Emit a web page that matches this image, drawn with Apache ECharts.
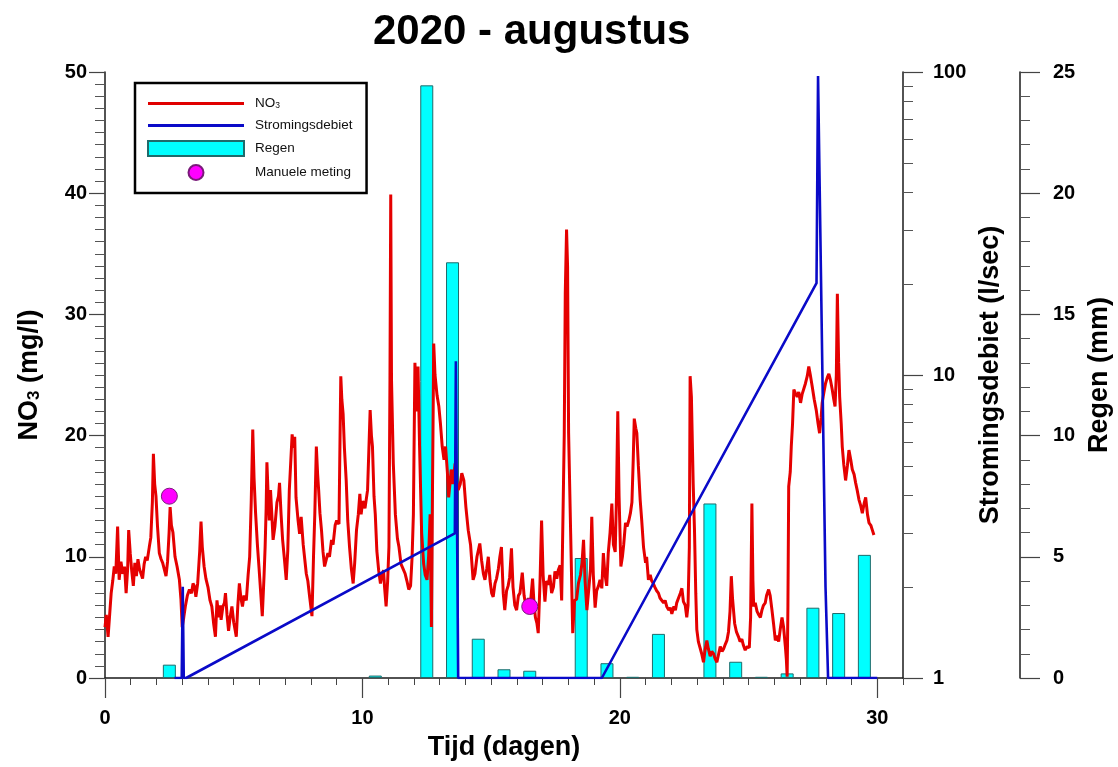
<!DOCTYPE html>
<html>
<head>
<meta charset="utf-8">
<title>2020 - augustus</title>
<script src="https://cdn.jsdelivr.net/npm/echarts@6/dist/echarts.min.js"></script>
<style>
  html, body { margin: 0; padding: 0; background: #ffffff; }
  #chart { width: 1118px; height: 767px; }
</style>
</head>
<body>
<div id="chart"></div>
<script>
// NO3 concentration (mg/l) over the month, time in days
const no3Days = [
  0.00,0.05,0.12,0.20,0.24,0.30,0.36,0.42,0.49,0.55,0.62,0.69,0.76,0.82,0.88,0.92,0.98,1.04,1.10,1.16,
  1.22,1.28,1.34,1.40,1.46,1.52,1.58,1.64,1.72,1.78,1.84,1.88,1.93,1.98,2.04,2.11,2.18,2.24,2.30,2.37,
  2.43,2.49,2.53,2.58,2.64,2.72,2.80,2.89,2.95,3.00,3.06,3.12,3.20,3.28,3.36,3.42,3.47,3.53,3.60,3.68,
  3.73,3.78,3.85,3.92,4.00,4.08,4.15,4.22,4.29,4.35,4.42,4.48,4.51,4.58,4.64,4.68,4.74,4.80,4.86,4.93,
  5.00,5.06,5.10,5.16,5.22,5.28,5.34,5.40,5.49,5.56,5.62,5.68,5.74,5.79,5.85,5.92,5.98,6.05,6.11,6.18,
  6.22,6.26,6.29,6.34,6.38,6.43,6.48,6.53,6.60,6.68,6.74,6.78,6.84,6.90,6.97,7.04,7.10,7.16,7.22,7.27,
  7.32,7.37,7.42,7.50,7.56,7.62,7.70,7.76,7.82,7.88,7.95,8.04,8.10,8.15,8.21,8.26,8.30,8.35,8.41,8.47,
  8.53,8.60,8.66,8.72,8.80,8.86,8.94,9.00,9.09,9.12,9.16,9.20,9.25,9.30,9.37,9.43,9.50,9.57,9.64,9.70,
  9.77,9.84,9.90,9.95,10.01,10.10,10.20,10.30,10.35,10.39,10.45,10.50,10.56,10.63,10.70,10.76,10.82,10.86,10.92,10.98,
  11.03,11.07,11.10,11.13,11.20,11.28,11.36,11.42,11.50,11.58,11.66,11.73,11.80,11.87,11.93,11.98,12.04,12.10,12.16,12.22,
  12.30,12.38,12.44,12.51,12.57,12.63,12.68,12.72,12.77,12.82,12.90,12.97,13.03,13.10,13.17,13.23,13.30,13.35,13.40,13.45,
  13.52,13.60,13.66,13.72,13.80,13.86,13.94,14.02,14.11,14.20,14.30,14.37,14.45,14.56,14.63,14.70,14.76,14.83,14.89,14.96,
  15.02,15.08,15.15,15.21,15.28,15.34,15.40,15.47,15.53,15.60,15.66,15.72,15.79,15.85,15.92,15.99,16.06,16.12,16.21,16.28,
  16.33,16.38,16.45,16.52,16.61,16.67,16.72,16.78,16.83,16.90,16.96,17.02,17.09,17.15,17.22,17.28,17.35,17.42,17.48,17.55,
  17.61,17.68,17.74,17.80,17.84,17.88,17.93,17.97,18.01,18.09,18.17,18.24,18.32,18.39,18.47,18.53,18.59,18.65,18.72,18.80,
  18.86,18.91,18.97,19.04,19.10,19.17,19.23,19.30,19.36,19.42,19.49,19.55,19.62,19.69,19.75,19.82,19.87,19.92,19.97,20.04,
  20.10,20.15,20.22,20.28,20.35,20.41,20.47,20.52,20.56,20.62,20.66,20.72,20.79,20.85,20.92,21.00,21.04,21.11,21.18,21.24,
  21.30,21.36,21.43,21.50,21.56,21.63,21.70,21.76,21.82,21.90,21.96,22.02,22.10,22.16,22.21,22.28,22.35,22.41,22.47,22.54,
  22.60,22.65,22.70,22.73,22.78,22.85,22.90,22.95,22.99,23.05,23.12,23.18,23.25,23.31,23.38,23.44,23.51,23.57,23.64,23.70,
  23.77,23.84,23.90,23.97,24.03,24.10,24.16,24.22,24.28,24.33,24.38,24.46,24.53,24.61,24.67,24.74,24.80,24.87,24.95,25.03,
  25.08,25.13,25.17,25.20,25.26,25.33,25.40,25.46,25.52,25.58,25.65,25.70,25.78,25.84,25.91,25.97,26.04,26.10,26.17,26.23,
  26.30,26.36,26.43,26.47,26.50,26.53,26.56,26.62,26.66,26.71,26.76,26.82,26.89,26.95,27.02,27.08,27.15,27.21,27.28,27.34,
  27.40,27.47,27.55,27.63,27.70,27.76,27.82,27.86,27.93,27.99,28.06,28.12,28.18,28.25,28.31,28.36,28.41,28.45,28.50,28.54,
  28.60,28.64,28.70,28.77,28.84,28.90,28.97,29.03,29.10,29.16,29.22,29.29,29.36,29.42,29.49,29.55,29.62,29.68,29.75,29.81,
  29.87
];
const no3Values = [
  4.2,5.2,3.4,5.8,7.0,8.0,9.2,8.6,12.5,8.1,9.6,8.6,9.2,7.0,9.0,12.2,10.3,8.8,7.6,9.5,
  8.4,9.8,9.0,8.6,8.2,9.4,10.0,9.7,10.8,11.6,14.5,18.5,16.0,15.0,12.5,10.3,9.8,9.5,9.0,8.4,
  9.6,12.0,14.1,12.6,12.0,10.0,9.2,8.1,6.5,4.2,5.0,5.9,6.8,7.3,7.0,7.8,7.6,6.7,7.8,10.5,
  12.9,10.8,9.2,8.2,7.5,6.4,5.9,4.5,3.4,6.4,5.0,6.0,4.8,5.9,6.2,7.0,5.2,3.9,5.0,5.9,
  4.6,3.9,3.4,6.0,7.8,6.6,5.9,6.8,6.4,8.5,10.0,14.5,20.5,16.5,13.6,11.0,9.2,7.0,5.1,8.5,
  10.8,14.0,17.8,15.0,13.0,15.5,13.5,11.4,12.5,14.5,15.0,16.1,13.5,11.4,9.8,8.1,10.5,15.5,18.0,20.1,
  19.0,19.9,14.9,13.0,11.9,13.3,11.0,9.8,8.6,8.0,6.7,5.1,10.0,13.5,19.1,16.8,15.5,13.6,12.2,10.4,
  9.2,9.8,10.3,10.0,11.4,11.0,12.6,13.0,12.7,18.0,24.9,23.0,21.8,19.0,16.3,13.0,10.8,9.0,7.8,9.5,
  12.2,13.5,15.2,13.5,14.6,14.0,15.5,22.1,20.0,19.1,15.0,13.5,10.5,8.9,7.8,8.5,8.9,7.5,5.9,8.0,
  10.8,24.6,39.9,24.6,17.7,13.5,11.5,10.8,9.4,9.0,8.6,8.0,7.3,7.6,10.0,13.5,26.0,22.0,25.7,19.1,
  12.0,9.4,8.5,8.1,10.0,13.5,4.2,15.0,27.6,25.0,23.3,22.4,21.0,19.1,18.0,19.1,17.0,14.9,16.0,17.2,
  16.0,17.7,16.2,15.5,16.0,16.9,16.3,14.1,12.2,11.0,8.1,8.6,10.0,11.1,9.7,8.6,8.1,9.0,10.0,8.0,
  7.0,6.7,7.8,8.2,9.0,10.0,10.8,7.0,5.6,7.2,7.6,8.3,10.7,7.5,6.0,5.6,6.8,7.0,8.7,6.8,
  6.2,5.6,6.6,6.0,8.2,6.0,5.0,4.5,3.7,8.0,13.0,8.5,6.3,8.0,7.7,8.5,7.0,7.5,8.8,8.2,
  8.9,9.3,6.4,6.4,20.0,31.7,37.0,33.9,20.2,11.9,3.7,6.4,6.5,7.8,8.5,9.5,11.4,8.0,5.6,7.5,
  9.0,13.3,8.5,5.8,7.2,7.6,8.1,7.4,10.3,8.6,7.6,10.3,12.0,14.4,11.0,10.4,15.0,22.0,15.0,9.2,
  10.0,11.0,12.8,12.5,13.0,13.6,14.5,18.0,21.4,20.6,20.2,17.5,14.7,13.0,10.8,9.5,10.0,8.1,8.5,8.0,
  7.8,7.5,7.2,7.0,6.6,6.7,6.2,6.4,5.9,5.6,5.8,5.3,5.9,5.6,6.2,6.6,7.0,7.4,6.3,6.0,
  5.0,6.0,10.8,24.9,23.2,16.0,12.2,7.0,4.0,3.0,3.1,2.0,1.3,2.3,3.1,2.4,1.8,2.2,2.0,1.6,
  1.3,2.0,2.6,2.2,2.4,2.8,3.1,3.8,5.5,8.4,6.5,4.5,3.8,3.4,3.0,3.2,2.7,2.3,2.6,2.5,
  5.0,14.4,8.0,5.9,6.2,5.5,5.2,5.0,5.6,6.0,6.2,6.8,7.3,6.8,5.6,4.5,3.1,3.5,3.0,4.0,
  5.0,4.2,2.6,1.5,0.1,6.0,15.8,17.0,19.1,21.0,23.8,23.5,23.2,23.6,22.7,23.4,23.5,24.3,24.9,25.7,
  25.0,24.1,23.0,22.1,21.0,20.2,21.5,22.7,23.6,24.3,24.8,25.1,24.6,23.8,23.0,22.4,25.0,31.7,26.0,23.2,
  21.0,19.1,17.6,16.3,17.5,18.8,18.0,17.2,16.8,16.1,15.5,14.7,14.2,13.6,14.4,14.9,13.5,12.8,12.6,12.2,
  11.8
];

// Flow rate (l/sec), logarithmic axis
const flowDays   = [2.70, 2.98, 3.02, 3.06, 3.15, 13.59, 13.63, 13.72, 19.30, 27.64, 27.70, 27.99, 28.09, 30.00];
const flowValues = [1.0,  1.0,  2.0,  1.0,  1.0,  3.0,   11.1,  1.0,   1.0,   20.1,  97.0,  2.0,   1.0,   1.0];

// Daily rainfall (mm), bars centred on the middle of each day
const rainDays   = [2.5, 10.5, 12.5, 13.5, 14.5, 15.5, 16.5, 18.5, 19.5, 20.5, 21.5, 23.5, 24.5, 25.5, 26.5, 27.5, 28.5, 29.5];
const rainValues = [0.55, 0.1, 24.45, 17.15, 1.62, 0.36, 0.3, 4.95, 0.61, 0.05, 1.82, 7.2, 0.67, 0.05, 0.19, 2.9, 2.68, 5.08];

// Manual NO3 measurements (mg/l)
const manualDays   = [2.5, 16.5];
const manualValues = [15.0, 5.9];

// Axis ticks
const dayTicks   = [0, 10, 20, 30];
const flowMajor  = [1, 10, 100];
const flowMinor  = [2, 3, 4, 5, 6, 7, 8, 9, 20, 30, 40, 50, 60, 70, 80, 90];

const FONT = '"Liberation Sans", Arial, Helvetica, sans-serif';
const AXIS_COLOR = '#1a1a1a';
// thin horizontal bar used as the legend symbol of the two line series
const LINE_ICON = 'path://M0,0 M0,6 L96,6 L96,9 L0,9 Z M96,15';

const pairs = (xs, ys) => xs.map((x, i) => [x, ys[i]]);

const chart = echarts.init(document.getElementById('chart'), null, { renderer: 'canvas' });

const tickLabel = { fontFamily: FONT, fontSize: 20, fontWeight: 'bold', color: '#000' };
const axisName = { fontFamily: FONT, fontSize: 27, fontWeight: 'bold', color: '#000' };
const noZeroLine = { show: true, onZero: false, lineStyle: { color: AXIS_COLOR, width: 1.5 } };

chart.setOption({
  animation: false,
  backgroundColor: '#ffffff',
  textStyle: { fontFamily: FONT },
  graphic: [{
    type: 'text',
    left: 373,
    top: 11,
    style: { text: '2020 - augustus', font: 'bold 42px ' + FONT, fill: '#000' }
  }],
  grid: { left: 105, right: 215, top: 72, bottom: 89, containLabel: false, outerBoundsMode: 'none' },
  legend: {
    orient: 'vertical',
    left: 135,
    top: 83,
    padding: [13, 14, 12, 12],
    backgroundColor: '#ffffff',
    borderColor: '#000',
    borderWidth: 2.5,
    itemWidth: 96,
    itemHeight: 15,
    itemGap: 7,
    selectedMode: false,
    data: [
      { name: 'NO3', icon: LINE_ICON, itemStyle: { color: '#e00000', borderWidth: 0 } },
      { name: 'Stromingsdebiet', icon: LINE_ICON, itemStyle: { color: '#0a0ac8', borderWidth: 0 } },
      { name: 'Regen', icon: 'rect' },
      { name: 'Manuele meting', icon: 'circle' }
    ],
    formatter: name => name === 'NO3' ? '{n|NO}{s|3}' : name,
    textStyle: {
      fontFamily: FONT, fontSize: 13.5, color: '#111', padding: [0, 0, 0, 6],
      rich: {
        n: { fontFamily: FONT, fontSize: 13.5, color: '#111' },
        s: { fontFamily: FONT, fontSize: 8.5, color: '#111', verticalAlign: 'bottom' }
      }
    }
  },
  xAxis: [
    {
      type: 'value', min: 0, max: 31, interval: 1, position: 'bottom',
      name: 'Tijd (dagen)', nameLocation: 'middle', nameGap: 56, nameTextStyle: axisName,
      axisLine: noZeroLine,
      axisTick: { show: true, length: 7, lineStyle: { color: '#444', width: 1 } },
      axisLabel: { customValues: dayTicks, margin: 30, ...tickLabel },
      splitLine: { show: false }
    },
    {
      type: 'value', min: 0, max: 31, position: 'bottom',
      axisLine: { show: false, onZero: false },
      axisTick: { show: true, customValues: dayTicks, length: 20, lineStyle: { color: '#444', width: 1.2 } },
      axisLabel: { show: false },
      splitLine: { show: false }
    }
  ],
  yAxis: [
    {
      type: 'value', min: 0, max: 50, interval: 10, position: 'left',
      name: '{b|NO}{s|3}{b| (mg/l)}', nameLocation: 'middle', nameGap: 62, nameRotate: 90,
      nameTextStyle: {
        ...axisName,
        rich: {
          b: { fontFamily: FONT, fontSize: 27, fontWeight: 'bold', color: '#000' },
          s: { fontFamily: FONT, fontSize: 17, fontWeight: 'bold', color: '#000', verticalAlign: 'bottom' }
        }
      },
      axisLine: noZeroLine,
      axisTick: { show: true, length: 16, lineStyle: { color: '#444', width: 1.2 } },
      minorTick: { show: true, splitNumber: 10, length: 10, lineStyle: { color: '#555', width: 1 } },
      axisLabel: { margin: 18, ...tickLabel },
      splitLine: { show: false }
    },
    {
      type: 'log', logBase: 10, min: 1, max: 100, position: 'right', offset: 0,
      name: 'Stromingsdebiet (l/sec)', nameLocation: 'middle', nameGap: 74, nameRotate: 90,
      nameTextStyle: axisName,
      axisLine: noZeroLine,
      axisTick: { show: true, customValues: flowMajor, length: 20, lineStyle: { color: '#444', width: 1.2 } },
      axisLabel: { margin: 30, ...tickLabel },
      splitLine: { show: false }
    },
    {
      type: 'value', min: 0, max: 25, interval: 5, position: 'right', offset: 117,
      name: 'Regen (mm)', nameLocation: 'middle', nameGap: 63, nameRotate: 90,
      nameTextStyle: axisName,
      axisLine: noZeroLine,
      axisTick: { show: true, length: 20, lineStyle: { color: '#444', width: 1.2 } },
      minorTick: { show: true, splitNumber: 5, length: 10, lineStyle: { color: '#555', width: 1 } },
      axisLabel: { margin: 33, ...tickLabel },
      splitLine: { show: false }
    },
    {
      type: 'log', logBase: 10, min: 1, max: 100, position: 'right', offset: 0,
      axisLine: { show: false, onZero: false },
      axisTick: { show: true, customValues: flowMinor, length: 10, lineStyle: { color: '#555', width: 1 } },
      axisLabel: { show: false },
      splitLine: { show: false }
    }
  ],
  series: [
    {
      name: 'Regen', type: 'bar', xAxisIndex: 0, yAxisIndex: 2, z: 2,
      barWidth: 13,
      itemStyle: { color: '#00ffff', borderColor: '#1f6b6b', borderWidth: 1 },
      data: pairs(rainDays, rainValues)
    },
    {
      name: 'NO3', type: 'line', xAxisIndex: 0, yAxisIndex: 0, z: 3,
      symbol: 'none', showSymbol: false,
      lineStyle: { color: '#e50000', width: 3 },
      itemStyle: { color: '#e50000' },
      data: pairs(no3Days, no3Values)
    },
    {
      name: 'Stromingsdebiet', type: 'line', xAxisIndex: 0, yAxisIndex: 1, z: 4,
      symbol: 'none', showSymbol: false,
      lineStyle: { color: '#0a0ac8', width: 2.6 },
      itemStyle: { color: '#0a0ac8' },
      data: pairs(flowDays, flowValues)
    },
    {
      name: 'Manuele meting', type: 'scatter', xAxisIndex: 0, yAxisIndex: 0, z: 5,
      symbol: 'circle', symbolSize: 16,
      itemStyle: { color: '#ff00ff', borderColor: '#7a1a7a', borderWidth: 1, opacity: 1 },
      data: pairs(manualDays, manualValues)
    }
  ]
});
</script>
</body>
</html>
